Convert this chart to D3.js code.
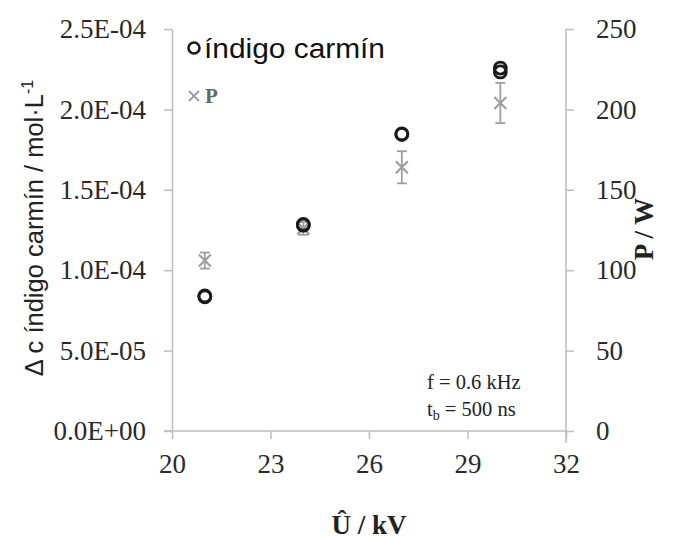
<!DOCTYPE html>
<html><head><meta charset="utf-8">
<script src="https://cdn.jsdelivr.net/npm/d3@7"></script>
<style>body{margin:0;background:#fff}svg{display:block}</style>
</head><body>
<script>
const voltages = [21, 24, 27, 30];
const indigoA = [8.4e-5, 1.28e-4, 1.847e-4, 2.257e-4];
const indigoB = [8.35e-5, 1.285e-4, 1.845e-4, 2.233e-4];
const power = [106, 126, 164, 204];
const powerErr = [5, 4, 10, 12.5];
const xTicks = [20, 23, 26, 29, 32];
const yLeftTicks = [0, 5e-5, 1e-4, 1.5e-4, 2e-4, 2.5e-4];
const yLeftLabels = ["0.0E+00","5.0E-05","1.0E-04","1.5E-04","2.0E-04","2.5E-04"];
const yRightTicks = [0, 50, 100, 150, 200, 250];

const W = 675, H = 541;
const m = {l:172, r:566, t:29, b:431};
const svg = d3.select("body").append("svg").attr("width", W).attr("height", H);
const x = d3.scaleLinear().domain([20, 32]).range([m.l, m.r]);
const yL = d3.scaleLinear().domain([0, 2.5e-4]).range([m.b, m.t]);
const yR = d3.scaleLinear().domain([0, 250]).range([m.b, m.t]);
const axisCol = "#bdbdbd", txt = "#2a2a2a";

function styleAxis(g){
  g.selectAll(".domain").attr("stroke", axisCol).attr("stroke-width", 1.5);
  g.selectAll(".tick line").attr("stroke", axisCol).attr("stroke-width", 1.5);
  g.selectAll("text").attr("fill", txt).attr("font-family", "Liberation Serif").attr("font-size", 27);
}
const gx = svg.append("g").attr("transform", `translate(0,${m.b})`)
  .call(d3.axisBottom(x).tickValues(xTicks).tickSize(8).tickPadding(15).tickSizeOuter(0));
styleAxis(gx);
gx.select(".domain").attr("d", `M${m.l-8},0H${m.r}`);
const gl = svg.append("g").attr("transform", `translate(${m.l},0)`)
  .call(d3.axisLeft(yL).tickValues(yLeftTicks).tickFormat((d,i)=>yLeftLabels[i]).tickSize(8).tickPadding(18).tickSizeOuter(0));
styleAxis(gl);
const gr = svg.append("g").attr("transform", `translate(${m.r},0)`)
  .call(d3.axisRight(yR).tickValues(yRightTicks).tickSize(8).tickPadding(22).tickSizeOuter(0));
styleAxis(gr);
gr.select(".domain").attr("d", `M0,${m.t}V${m.b+12}`);

// axis titles
svg.append("text").attr("transform", `translate(43,228) rotate(-90)`).attr("text-anchor","middle")
  .attr("font-family","Liberation Sans").attr("font-size", 25.5).attr("fill","#222")
  .html('Δ c índigo carmín / mol·L<tspan dy="-10" font-size="16">-1</tspan>');
svg.append("text").attr("transform", `translate(653,229) rotate(-90)`).attr("text-anchor","middle")
  .attr("font-family","Liberation Serif").attr("font-weight","bold").attr("font-size", 27).attr("fill","#222")
  .text("P / W");
svg.append("text").attr("x", 369).attr("y", 534).attr("text-anchor","middle")
  .attr("font-family","Liberation Serif").attr("font-weight","bold").attr("font-size", 27).attr("fill","#222")
  .text("Û / kV");

// P series
const gray = "#9e9e9e";
const pg = svg.append("g");
voltages.forEach((v,i)=>{
  const cx = x(v), cy = yR(power[i]);
  const t = yR(power[i]+powerErr[i]), b = yR(power[i]-powerErr[i]);
  pg.append("line").attr("x1",cx).attr("x2",cx).attr("y1",t).attr("y2",b).attr("stroke",gray).attr("stroke-width",1.8);
  [t,b].forEach(yy=>pg.append("line").attr("x1",cx-5).attr("x2",cx+5).attr("y1",yy).attr("y2",yy).attr("stroke",gray).attr("stroke-width",1.8));
  const s = 6;
  pg.append("path").attr("d",`M${cx-s},${cy-s}L${cx+s},${cy+s}M${cx-s},${cy+s}L${cx+s},${cy-s}`).attr("stroke",gray).attr("stroke-width",2.2);
});

// indigo series
const ig = svg.append("g");
[indigoA, indigoB].forEach(arr=>{
  voltages.forEach((v,i)=>{
    ig.append("circle").attr("cx", x(v)).attr("cy", yL(arr[i])).attr("r", 6)
      .attr("fill","none").attr("stroke","#1a1a1a").attr("stroke-width",2.8);
  });
});

// legend
svg.append("circle").attr("cx",194).attr("cy",48).attr("r",5.5).attr("fill","none").attr("stroke","#1a1a1a").attr("stroke-width",2.6);
svg.append("text").attr("x",204).attr("y",58).attr("font-family","Liberation Sans").attr("font-size",27)
  .attr("textLength",181).attr("lengthAdjust","spacingAndGlyphs").attr("fill","#111").text("índigo carmín");
svg.append("path").attr("d","M189,91L199,101M189,101L199,91").attr("stroke",gray).attr("stroke-width",2);
svg.append("text").attr("x",205).attr("y",103).attr("font-family","Liberation Serif").attr("font-weight","bold").attr("font-size",21).attr("fill","#666").text("P");

// annotation
svg.append("text").attr("x",427).attr("y",389).attr("font-family","Liberation Serif").attr("font-size",20.5).attr("fill","#222").text("f = 0.6 kHz");
svg.append("text").attr("x",427).attr("y",416).attr("font-family","Liberation Serif").attr("font-size",20.5).attr("fill","#222")
  .html('t<tspan dy="4" font-size="14">b</tspan><tspan dy="-4"> = 500 ns</tspan>');
</script>
</body></html>
